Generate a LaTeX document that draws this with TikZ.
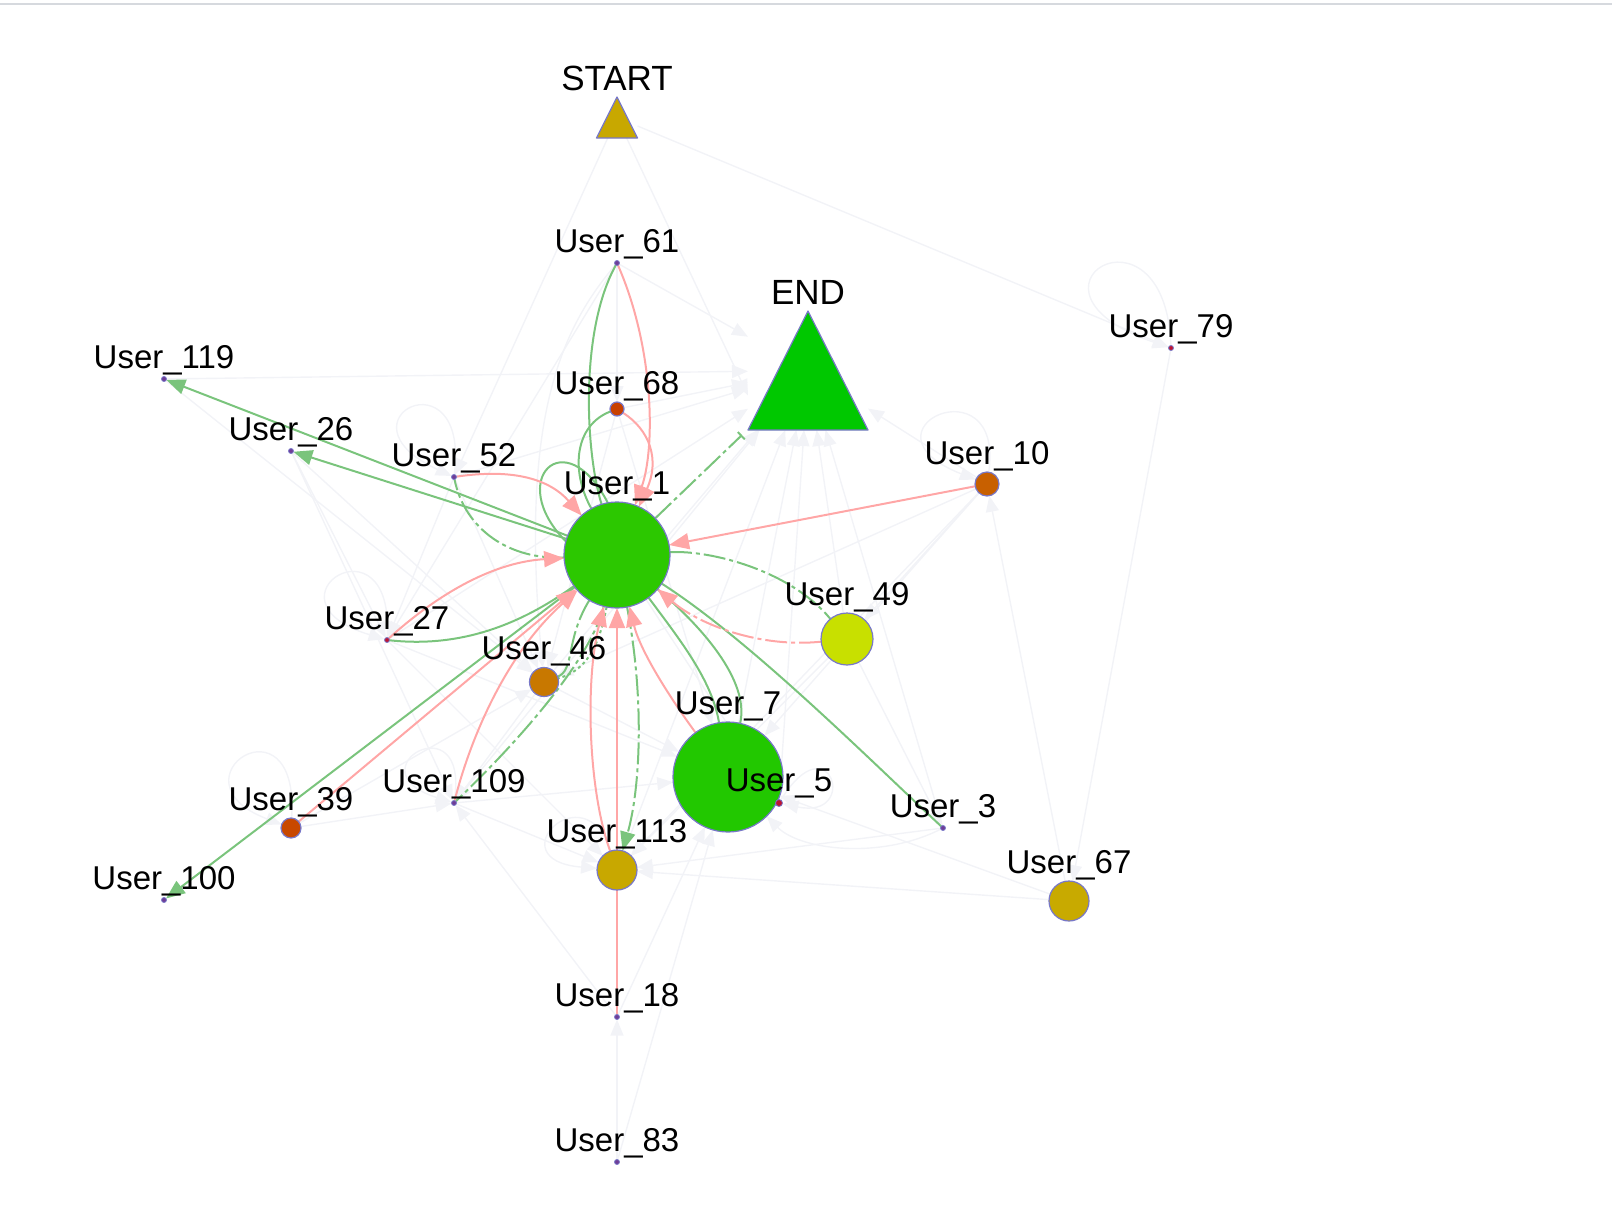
\documentclass[tikz,border=0pt]{standalone}
\usepackage{fontspec}
\setmainfont{Liberation Sans}
\usetikzlibrary{arrows.meta}
\definecolor{nodeline}{RGB}{120,120,200}
\definecolor{dotfill}{RGB}{110,60,150}
\definecolor{dotred}{RGB}{190,20,50}
\definecolor{faint}{RGB}{242,243,247}
\definecolor{gedge}{RGB}{122,196,124}
\definecolor{pedge}{RGB}{255,166,166}
\definecolor{topline}{RGB}{214,217,222}
\definecolor{cStart}{RGB}{200,168,0}
\definecolor{cEnd}{RGB}{0,200,0}
\definecolor{cUa}{RGB}{44,200,0}
\definecolor{cUb}{RGB}{34,200,0}
\definecolor{cUc}{RGB}{200,224,0}
\definecolor{cUd}{RGB}{200,120,0}
\definecolor{cUe}{RGB}{200,64,0}
\definecolor{cUf}{RGB}{200,96,0}
\definecolor{cUg}{RGB}{200,72,0}
\definecolor{cUh}{RGB}{200,168,0}
\definecolor{cUi}{RGB}{200,170,0}
\newcommand\labfont{\fontsize{33}{39}\selectfont}
\newcommand\biglabfont{\fontsize{35}{41}\selectfont}
\pgfdeclarelayer{edgelayer}
\pgfsetlayers{edgelayer,main}
\begin{document}
\begin{tikzpicture}[x=1pt,y=-1pt,
  every node/.style={inner sep=0pt, outer sep=0pt},
  vert/.style={circle, draw=nodeline, line width=1.2pt, minimum size=#1},
  tinydot/.style={circle, draw=nodeline, fill=dotfill, line width=0.8pt, minimum size=5pt},
  lab/.style={label={[anchor=base, label distance=8pt, font=\labfont]90:#1}},
  biglab/.style={label={[anchor=base, label distance=7pt, font=\biglabfont]90:#1}},
  fE/.style={draw=faint, line width=1.4pt, -{Triangle[length=16pt,width=13pt]}},
  gL/.style={draw=gedge, line width=2pt},
  gE/.style={gL, -{Triangle[length=19pt,width=15pt]}},
  pE/.style={draw=pedge, line width=2pt, -{Triangle[length=20pt,width=16pt]}},
  dd/.style={dash pattern=on 22pt off 4pt on 4pt off 4pt}
]
\path[use as bounding box] (0,0) rectangle (1612,1218);
\draw[topline, line width=1.5pt] (0,4) -- (1612,4);

% triangles
\node[minimum width=41pt, minimum height=41pt, biglab=START] (START) at (617,117.5) {};
\filldraw[fill=cStart, draw=nodeline, line width=1.2pt, line join=round] (START.south west) -- (START.north) -- (START.south east) -- cycle;
\node[minimum width=120pt, minimum height=119pt, biglab=END] (END) at (808,370.5) {};
\filldraw[fill=cEnd, draw=nodeline, line width=1.2pt, line join=round] (END.south west) -- (END.north) -- (END.south east) -- cycle;

% nodes
\node[tinydot, lab=User\_61] (U61) at (617,263) {};
\node[vert=14pt, fill=cUe, lab=User\_68] (U68) at (617,409) {};
\node[tinydot, lab=User\_119] (U119) at (164,379) {};
\node[tinydot, lab=User\_26] (U26) at (291,451) {};
\node[tinydot, lab=User\_52] (U52) at (454,477) {};
\node[vert=106pt, fill=cUa, lab=User\_1] (U1) at (617,555) {};
\node[vert=24pt, fill=cUf, lab=User\_10] (U10) at (987,484) {};
\node[tinydot, fill=dotred, lab=User\_79] (U79) at (1171,348) {};
\node[vert=52pt, fill=cUc, lab=User\_49] (U49) at (847,639) {};
\node[tinydot, fill=dotred, lab=User\_27] (U27) at (387,640) {};
\node[vert=29pt, fill=cUd, lab=User\_46] (U46) at (544,682) {};
\node[vert=110pt, fill=cUb, lab=User\_7] (U7) at (728,777) {};
\node[tinydot, minimum size=7pt, fill=dotred, lab=User\_5] (U5) at (779,803) {};
\node[tinydot, lab=User\_3] (U3) at (943,828) {};
\node[tinydot, lab=User\_109] (U109) at (454,803) {};
\node[vert=20pt, fill=cUg, lab=User\_39] (U39) at (291,828) {};
\node[tinydot, lab=User\_100] (U100) at (164,900) {};
\node[vert=40pt, fill=cUh, lab=User\_113] (U113) at (617,870) {};
\node[vert=40pt, fill=cUi, lab=User\_67] (U67) at (1069,901) {};
\node[tinydot, lab=User\_18] (U18) at (617,1017) {};
\node[tinydot, lab=User\_83] (U83) at (617,1162) {};

\begin{pgfonlayer}{edgelayer}
% faint edges
\draw[fE] (START) -- (U52);
\draw[fE] (START) -- ([yshift=-25pt]END.west);
\draw[fE] (START) -- (U79);
\draw[fE] (U61) -- (END);
\draw[fE] (U61) -- (U68);
\draw[fE] (U61) -- (U27);
\draw[fE] (U61) .. controls (560,330) and (520,420) .. (U46);
\draw[fE] (U119) -- (END);
\draw[fE] (U26) -- (U46);
\draw[fE] (U26) -- (U27);
\draw[fE] (U52) -- (END);
\draw[fE] (U52) -- (U27);
\draw[fE] (U52) -- (U46);
\draw[fE] (U27) -- (END);
\draw[fE] (U68) -- (END);
\draw[fE] (U46) -- (END);
\draw[fE] (U109) -- (END);
\draw[fE] (U113) -- (END);
\draw[fE] (U7) -- (END);
\draw[fE] (U49) -- (END);
\draw[fE] (U3) -- (END);
\draw[fE] (U10) -- (END);
\draw[fE] (U5) -- (END);
\draw[fE] (U39) -- (U109);
\draw[fE] (U39) -- (U46);
\draw[fE] (U109) -- (U7);
\draw[fE] (U27) -- (U7);
\draw[fE] (U46) -- (U7);
\draw[fE] (U27) -- (U113);
\draw[fE] (U109) -- (U113);
\draw[fE] (U18) -- (U7);
\draw[fE] (U83) -- (U7);
\draw[fE] (U83) -- (U18);
\draw[fE] (U18) -- (U109);
\draw[fE] (U10) -- (U49);
\draw[fE] (U10) -- (U7);
\draw[fE] (U10) -- (U46);
\draw[fE] (U10) -- (U113);
\draw[fE] (U49) -- (U3);
\draw[fE] (U49) -- (U113);
\draw[fE] (U3) .. controls (880,860) and (800,850) .. (U7);
\draw[fE] (U3) -- (U113);
\draw[fE] (U67) -- (U113);
\draw[fE] (U67) -- (U7);
\draw[fE] (U67) -- (U10);
\draw[fE] (U79) -- (U67);
\draw[fE] (U46) -- (U109);
\draw[fE] (U68) -- (U46);
\draw[fE] (U68) -- (U7);
\draw[fE] (U26) -- (U109);
\draw[fE] (U119) -- (U46);
\draw[fE] (U1) -- (U5);
% faint loops
\draw[fE] (U79) .. controls (1165,190) and (1000,290) .. (U79);
\draw[fE] (U10) .. controls (1005,360) and (850,430) .. (U10);
\draw[fE] (U27) .. controls (395,510) and (255,600) .. (U27);
\draw[fE] (U39) .. controls (300,690) and (165,780) .. (U39);
\draw[fE] (U52) .. controls (470,350) and (330,420) .. (U52);
\draw[fE] (U113) .. controls (585,770) and (495,860) .. (U113);
\draw[fE] (U109) .. controls (470,700) and (350,770) .. (U109);
\draw[fE] (U5) .. controls (830,720) and (860,820) .. (U5);

% green edges
\draw[gE] (U1) -- (U119);
\draw[gE] (U1) -- (U26);
\draw[gE] (U1) -- (U100);
\draw[gL,dd,-{Bar[width=10pt]}] (U1) -- ([xshift=-6pt,yshift=-5pt]END.south west);
\draw[gL] (U1) .. controls (585,450) and (580,330) .. (U61);
\draw[gL] (U1) .. controls (570,470) and (575,425) .. (U68);
\draw[gL] (U1.165) .. controls (505,480) and (565,420) .. (U1.100);
\draw[gL,dd] (U1) .. controls (510,560) and (465,530) .. (U52);
\draw[gL] (U1) .. controls (520,625) and (460,648) .. (U27);
\draw[gL,dashed] (U1) .. controls (600,640) and (590,670) .. (U46);
\draw[gL,dd] (U1) .. controls (565,640) and (575,670) .. (U46);
\draw[gL,dd] (U1) .. controls (590,660) and (520,740) .. (U109);
\draw[gE,dd] (U1) .. controls (645,700) and (640,790) .. (U113);
\draw[gL] (U1) .. controls (680,640) and (712,680) .. (U7);
\draw[gL] (U1) .. controls (700,625) and (750,680) .. (U7);
\draw[gL] (U1) .. controls (750,640) and (870,760) .. (U3);
\draw[gL,dd] (U1) .. controls (710,550) and (790,570) .. (U49);

% pink edges
\draw[pE] (U52) .. controls (515,468) and (550,480) .. (U1);
\draw[pE] (U27) .. controls (440,592) and (495,562) .. (U1);
\draw[pE] (U39) -- (U1);
\draw[pE] (U109) .. controls (470,740) and (505,655) .. (U1);
\draw[pE] (U113) .. controls (588,790) and (585,680) .. (U1);
\draw[pE] (U18) -- (U1);
\draw[pE] (U7) .. controls (668,695) and (640,650) .. (U1);
\draw[pE,dd] (U49) .. controls (760,648) and (700,625) .. (U1);
\draw[pE] (U10) -- (U1);
\draw[pE] (U61) .. controls (655,350) and (655,450) .. (U1);
\draw[pE] (U68) .. controls (650,430) and (660,460) .. (U1);
\end{pgfonlayer}
\end{tikzpicture}
\end{document}
